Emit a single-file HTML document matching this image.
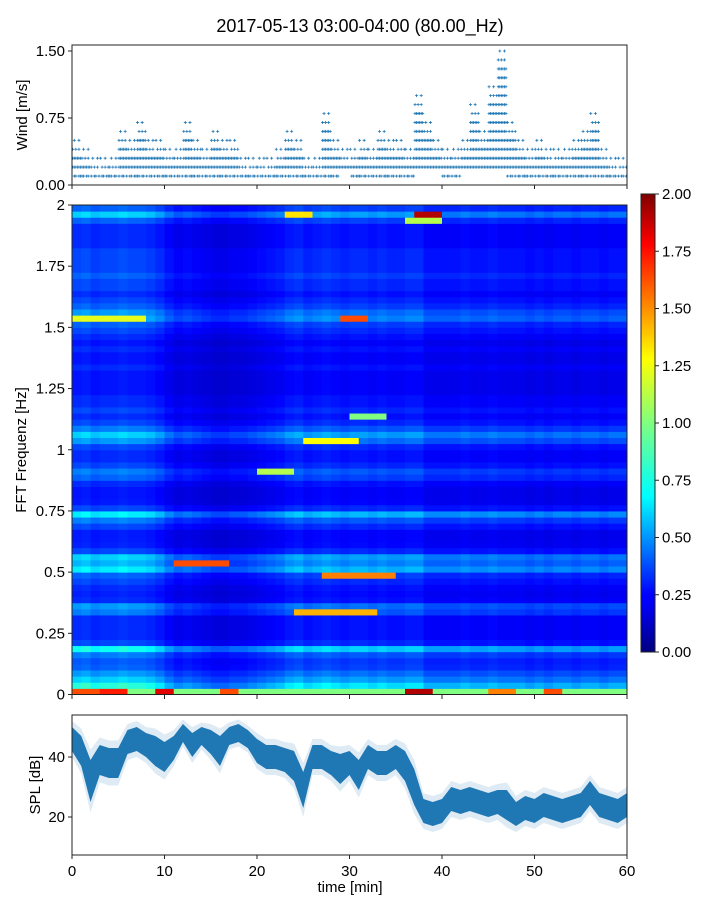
<!DOCTYPE html>
<html><head><meta charset="utf-8"><style>
body{margin:0;background:#fff;}
svg{display:block;font-family:"Liberation Sans",sans-serif;}
</style></head><body>
<svg id="fig" width="720" height="900" xmlns="http://www.w3.org/2000/svg">
<text x="360" y="32" font-size="18" text-anchor="middle">2017-05-13 03:00-04:00 (80.00_Hz)</text>
<defs>
<linearGradient id="jet" x1="0" y1="1" x2="0" y2="0">
<stop offset="0" stop-color="#00007f"/><stop offset="0.11" stop-color="#0000ff"/><stop offset="0.125" stop-color="#0000ff"/>
<stop offset="0.34" stop-color="#00ffff" /><stop offset="0.36" stop-color="#0dfff0"/><stop offset="0.5" stop-color="#7fff7f"/>
<stop offset="0.64" stop-color="#ffff00"/><stop offset="0.89" stop-color="#ff0000"/><stop offset="1" stop-color="#7f0000"/>
</linearGradient>
<clipPath id="c1"><rect x="72" y="45" width="555" height="140"/></clipPath>
<clipPath id="c3"><rect x="72" y="715" width="555" height="140"/></clipPath>
</defs>
<g id="wind"></g>
<g id="spec"></g>
<g id="cbar"></g>
<g id="spl"></g>
</svg>
<script>
// ---- data ----
const minutes = [0,1,2,3,4,5,6,7,8,9,10,11,12,13,14,15,16,17,18,19,20,21,22,23,24,25,26,27,28,29,30,31,32,33,34,35,36,37,38,39,40,41,42,43,44,45,46,47,48,49,50,51,52,53,54,55,56,57,58,59];
const windMaxTenths = [5,4,3,3,3,6,5,7,5,5,4,4,7,5,4,6,5,5,3,3,3,3,4,6,5,3,3,8,5,4,4,5,4,6,5,5,4,10,7,5,4,4,5,9,6,11,15,7,5,4,5,4,4,4,5,6,8,4,3,3];
const windMinTenths = [1,1,1,1,1,1,1,1,1,1,1,1,1,1,1,1,1,1,1,1,1,1,1,1,1,1,1,1,1,2,1,1,1,1,1,1,1,2,2,2,1,1,2,2,2,2,2,1,1,1,1,1,1,1,1,1,1,1,1,1];
const windTicks = [0,0.75,1.5];
const windTickLabels = ["0.00","0.75","1.50"];
const freqProfile = [1.0,0.75,0.6,0.5,0.4,0.38,0.45,0.7,0.35,0.3,0.3,0.3,0.3,0.45,0.5,0.3,0.28,0.3,0.35,0.4,0.65,0.55,0.6,0.35,0.28,0.27,0.27,0.35,0.45,0.65,0.35,0.27,0.26,0.26,0.3,0.4,0.45,0.35,0.3,0.3,0.35,0.5,0.6,0.45,0.35,0.3,0.35,0.3,0.3,0.26,0.26,0.26,0.26,0.3,0.26,0.26,0.3,0.26,0.3,0.35,0.4,0.55,0.5,0.4,0.35,0.3,0.35,0.35,0.4,0.35,0.35,0.35,0.35,0.3,0.3,0.3,0.3,0.4,0.6,0.4];
const timeFactor = [1.1,1.15,1.05,1.1,1.1,1.15,1.1,1.1,1.05,0.95,0.8,0.7,0.75,0.7,0.65,0.6,0.6,0.65,0.65,0.7,0.75,0.8,0.85,0.95,1.0,0.9,0.95,1.0,0.95,0.9,0.95,0.95,0.9,0.95,0.9,0.9,0.95,0.95,0.8,0.8,0.8,0.8,0.85,0.8,0.8,0.85,0.8,0.8,0.8,0.75,0.8,0.75,0.8,0.8,0.75,0.8,0.8,0.75,0.8,0.8];
// hotspots: start min, end min, low freq, high freq, value
const hotT0 = [37,23,25,29,11,24,27,0,20,0,30,36,3,9,16,36,45,51];
const hotT1 = [40,26,31,32,17,33,35,3,24,8,34,40,6,11,18,39,48,53];
const hotF0 = [1.95,1.95,1.025,1.525,0.525,0.325,0.475,0.0,0.9,1.525,1.125,1.925,0,0,0,0,0,0];
const hotF1 = [1.975,1.975,1.05,1.55,0.55,0.35,0.5,0.025,0.925,1.55,1.15,1.95,0.025,0.025,0.025,0.025,0.025,0.025];
const hotVal = [1.9,1.3,1.25,1.6,1.6,1.4,1.5,1.6,1.1,1.2,1.0,1.1,1.7,1.8,1.6,1.9,1.5,1.6];
const specTicks = [0,0.25,0.5,0.75,1,1.25,1.5,1.75,2];
const specTickLabels = ["0","0.25","0.5","0.75","1","1.25","1.5","1.75","2"];
const cbarTicks = [0,0.25,0.5,0.75,1,1.25,1.5,1.75,2];
const cbarTickLabels = ["0.00","0.25","0.50","0.75","1.00","1.25","1.50","1.75","2.00"];
const splMinutes = [0,1,2,3,4,5,6,7,8,9,10,11,12,13,14,15,16,17,18,19,20,21,22,23,24,25,26,27,28,29,30,31,32,33,34,35,36,37,38,39,40,41,42,43,44,45,46,47,48,49,50,51,52,53,54,55,56,57,58,59,60];
const splMean = [46,42,32,39,38,38,45,46,44,42,40,43,48,44,47,45,42,47,48,46,42,40,40,39,37,29,40,40,38,36,38,34,40,38,38,40,37,30,22,21,22,26,25,26,25,24,25,24,21,23,22,24,23,22,23,24,28,24,23,22,24];
const splHalf = [4,5,7,5,5,5,4,4,4,5,5,4,3,4,3,4,5,3,3,3,4,4,4,4,5,6,4,4,4,5,4,5,4,4,4,4,5,6,4,4,4,4,4,4,4,4,4,5,4,4,4,4,4,4,4,4,4,4,4,4,4];
const xTicks = [0,10,20,30,40,50,60];
const xTickLabels = ["0","10","20","30","40","50","60"];
const splTicks = [20,40];
const splTickLabels = ["20","40"];

// ---- helpers ----
const NS="http://www.w3.org/2000/svg";
function mk(tag,attrs,parent,txt){const e=document.createElementNS(NS,tag);for(const k in attrs)e.setAttribute(k,attrs[k]);if(txt!==undefined)e.textContent=txt;parent.appendChild(e);return e;}
const X0=72,X1=627;
const xs=m=>X0+(m/60)*(X1-X0);
const yWind=v=>185-(v/1.567)*140;
const ySpec=f=>694.5-(f/2)*489.5;
const yCb=v=>652-(v/2)*458;
const ySpl=v=>855-((v-7.33)/(54-7.33))*140;
function jet(v){let t=Math.max(0,Math.min(1,v/2));
 const r=Math.max(0,Math.min(1,1.5-Math.abs(4*t-3))),g=Math.max(0,Math.min(1,1.5-Math.abs(4*t-2))),b=Math.max(0,Math.min(1,1.5-Math.abs(4*t-1)));
 return `rgb(${Math.round(r*255)},${Math.round(g*255)},${Math.round(b*255)})`;}

// ---- wind ----
const W=document.getElementById('wind');
const wg=mk('g',{'clip-path':'url(#c1)'},W);
minutes.forEach((m,i)=>{
 for(let s=0;s<6;s++){
  const t=m+(s+0.5)/6;
  const top=windMaxTenths[i];
  for(let k=windMinTenths[i];k<=top;k++){
   const upper=k>top-2;
   if(upper && (s%(k===top?3:2))!==((i+k)%2)) continue;
   if(!upper && k===1 && (s+i)%3===0) continue;
   const px=xs(t),py=yWind(k/10);
   const p=mk('path',{d:`M${px-1.5},${py}h3M${px},${py-1.5}v3`,stroke:'#1f77b4','stroke-width':0.8},wg);
   
   
  }
 }
});
mk('rect',{x:72,y:45,width:555,height:140,fill:'none',stroke:'#222','stroke-width':1,},W);
windTicks.forEach((v,i)=>{const y=yWind(v);
 mk('line',{x1:68,x2:72,y1:y,y2:y,stroke:'#222'},W);
 mk('text',{x:65,y:y+5,'font-size':15,'text-anchor':'end',},W,windTickLabels[i]);});
xTicks.forEach(v=>mk('line',{x1:xs(v),x2:xs(v),y1:185,y2:189,stroke:'#222'},W));
mk('text',{x:0,y:0,transform:'translate(27,115) rotate(-90)','font-size':15,'text-anchor':'middle',},W,'Wind [m/s]');

// ---- spectrogram ----
const S=document.getElementById('spec');
const nR=freqProfile.length;
minutes.forEach((m,c)=>{
 for(let r=0;r<nR;r++){
  const f0=r*0.025,f1=f0+0.025;
  let v=freqProfile[r]*timeFactor[c];
  if(r===0) v=freqProfile[r];
  for(let h=0;h<hotVal.length;h++){
   if(m>=hotT0[h]&&m<hotT1[h]&&f0>=hotF0[h]-1e-9&&f1<=hotF1[h]+1e-9) v=hotVal[h];
  }
  const y=ySpec(f1),hgt=ySpec(f0)-y;
  const cell=mk('rect',{x:xs(m),y:y,width:xs(m+1)-xs(m)+0.5,height:hgt+0.5,fill:jet(v)},S);
  
  
 }
});
mk('rect',{x:72,y:205,width:555,height:489.5,fill:'none',stroke:'#222',},S);
specTicks.forEach((v,i)=>{const y=ySpec(v);
 mk('line',{x1:68,x2:72,y1:y,y2:y,stroke:'#222'},S);
 mk('text',{x:65,y:y+5,'font-size':15,'text-anchor':'end',},S,specTickLabels[i]);});
xTicks.forEach(v=>mk('line',{x1:xs(v),x2:xs(v),y1:695,y2:699,stroke:'#222'},S));
mk('text',{x:0,y:0,transform:'translate(26,450) rotate(-90)','font-size':15,'text-anchor':'middle',},S,'FFT Frequenz [Hz]');

// ---- colorbar ----
const C=document.getElementById('cbar');
mk('rect',{x:641,y:194,width:14,height:458,fill:'url(#jet)',stroke:'#222',},C);
cbarTicks.forEach((v,i)=>{const y=yCb(v);
 mk('line',{x1:655,x2:659,y1:y,y2:y,stroke:'#222'},C);
 mk('text',{x:662,y:y+5,'font-size':15,},C,cbarTickLabels[i]);});

// ---- SPL ----
const P=document.getElementById('spl');
const pg=mk('g',{'clip-path':'url(#c3)'},P);
function band(k,op,name){
 let d='M';
 splMinutes.forEach((m,i)=>{d+=`${xs(m)},${ySpl(splMean[i]+splHalf[i]*k)} L`;});
 for(let i=splMinutes.length-1;i>=0;i--){d+=`${xs(splMinutes[i])},${ySpl(splMean[i]-splHalf[i]*k)}${i?' L':' Z'}`;}
 const p=mk('path',{d:d,fill:'#1f77b4','fill-opacity':op},pg);
 
 
}
band(1.5,0.15,'spl-outer-band');
band(1,1,'spl-inner-band');
mk('rect',{x:72,y:715,width:555,height:140,fill:'none',stroke:'#222',},P);
splTicks.forEach((v,i)=>{const y=ySpl(v);
 mk('line',{x1:68,x2:72,y1:y,y2:y,stroke:'#222'},P);
 mk('text',{x:65,y:y+5,'font-size':15,'text-anchor':'end',},P,splTickLabels[i]);});
xTicks.forEach((v,i)=>{const x=xs(v);
 mk('line',{x1:x,x2:x,y1:855,y2:859,stroke:'#222'},P);
 mk('text',{x:x,y:876,'font-size':15,'text-anchor':'middle',},P,xTickLabels[i]);});
mk('text',{x:350,y:892,'font-size':15,'text-anchor':'middle',},P,'time [min]');
mk('text',{x:0,y:0,transform:'translate(40,785) rotate(-90)','font-size':15,'text-anchor':'middle',},P,'SPL [dB]');
</script>
</body></html>
